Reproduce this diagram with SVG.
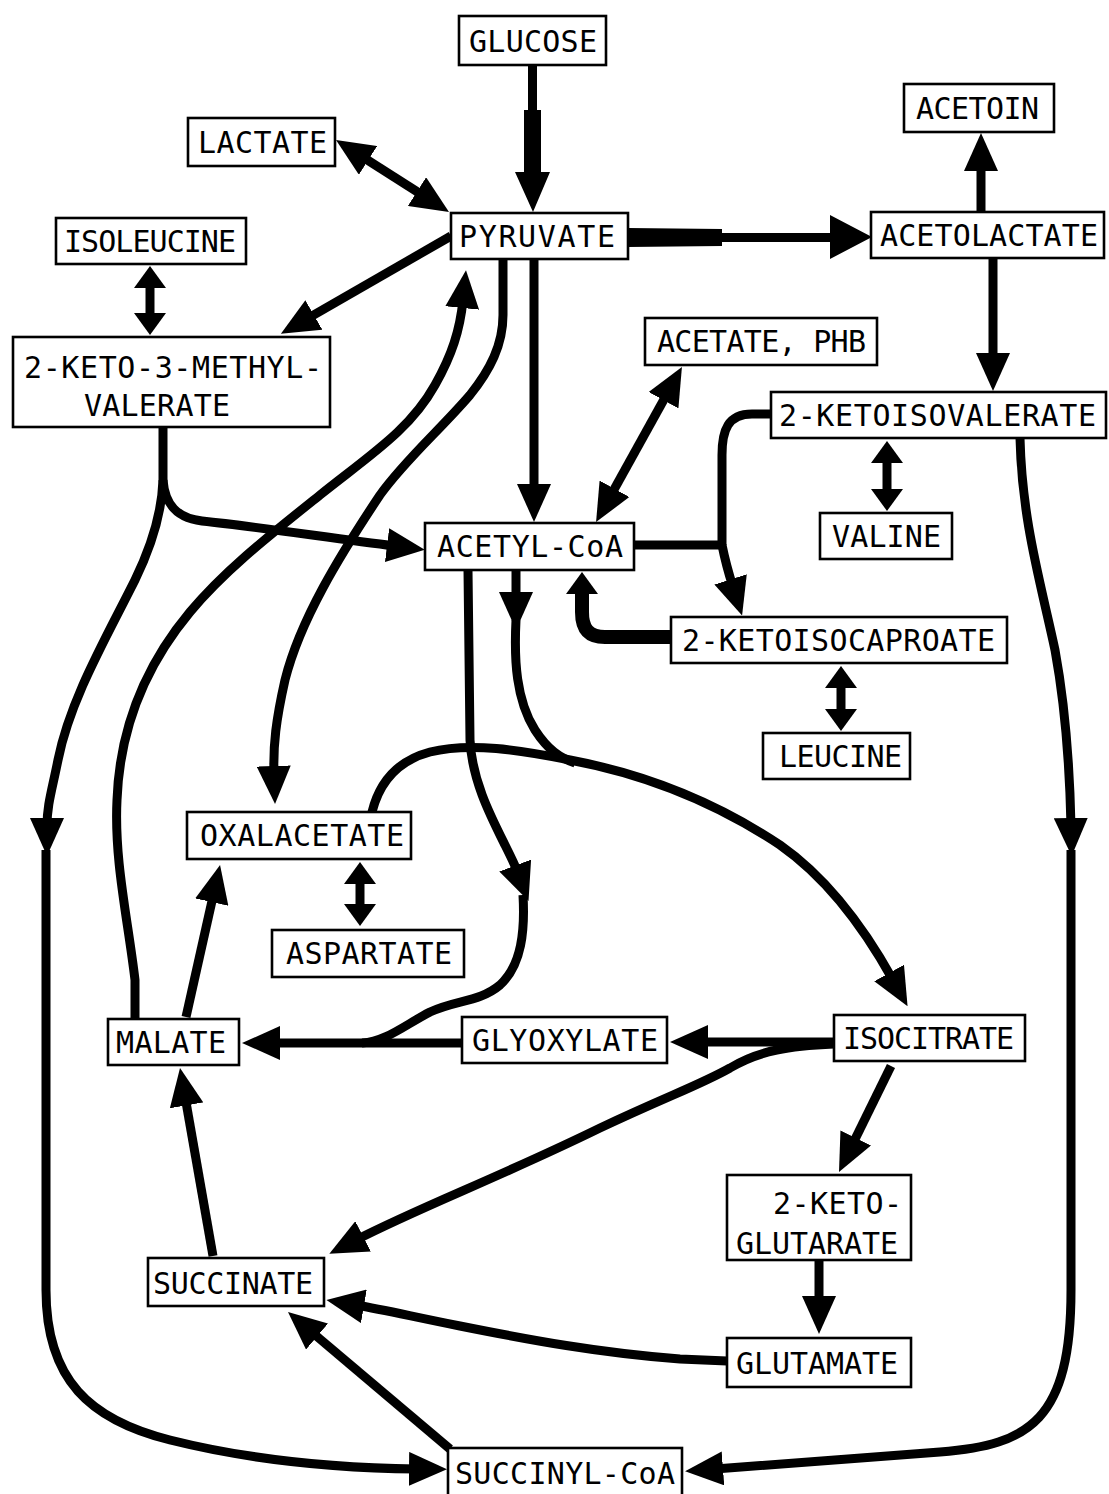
<svg xmlns="http://www.w3.org/2000/svg" width="1109" height="1494" viewBox="0 0 1109 1494">
<style>
.bx rect{fill:#fff;stroke:#000;stroke-width:2.6}
.bx text{font-family:"DejaVu Sans Mono","Liberation Mono",monospace;font-size:30px;fill:#000;text-anchor:start}
.c{fill:none;stroke:#000;stroke-width:9;stroke-linejoin:round}
.ca{fill:none;stroke:#000;stroke-width:9;stroke-linejoin:round;marker-end:url(#ah)}
.cd{fill:none;stroke:#000;stroke-width:9;marker-start:url(#sh);marker-end:url(#sh)}
.f{fill:#000;stroke:none}
</style>
<defs>
<marker id="ah" markerUnits="userSpaceOnUse" viewBox="0 0 38 34" refX="8" refY="17" markerWidth="38" markerHeight="34" orient="auto-start-reverse"><path d="M0,0 L38,17 L0,34 Z" fill="#000"/></marker>
<marker id="sh" markerUnits="userSpaceOnUse" viewBox="0 0 22 32" refX="6" refY="16" markerWidth="22" markerHeight="32" orient="auto-start-reverse"><path d="M0,0 L22,16 L0,32 Z" fill="#000"/></marker>
</defs>
<rect width="1109" height="1494" fill="#fff"/>
<g id="connectors">
<path class="f" d="M528,65 L537,65 L537,110 L541,110 L541,172 L550,172 L533,212 L515,172 L524,172 L524,110 L528,110 Z"/>
<path class="c" d="M361.3,156.1 L423.7,195.9" marker-start="url(#ah)" marker-end="url(#ah)"/>
<path class="f" d="M628,228 L722,229 L722,233 L830,233 L830,215 L872,237 L830,259 L830,242 L722,242 L722,246 L628,247 Z"/>
<path class="ca" d="M981,212 L981,163"/>
<path class="ca" d="M993,258 L993,361"/>
<path class="cd" d="M150,282 L150,319"/>
<path class="ca" d="M451,236 L306.9,318.9"/>
<path class="ca" d="M534,259 L534,492"/>
<path class="c" d="M610.6,495.8 L667.4,393.2" marker-start="url(#ah)" marker-end="url(#ah)"/>
<path class="cd" d="M887,457 L887,495"/>
<path class="ca" d="M1020,438 C1022,520 1040,580 1055,650 C1066,710 1070,780 1071,826"/>
<path class="ca" d="M1071,850 L1071,1290 C1071,1420 1030,1445 940,1452 L715,1469"/>
<path class="ca" d="M163,427 L163,480 C162,510 152,545 135,580 C105,640 70,700 58,760 C52,790 47,805 47,826"/>
<path class="ca" d="M46,850 L46,1290 C46,1380 90,1420 170,1440 C250,1460 330,1468 417,1469"/>
<path class="ca" d="M163,480 C165,505 177,518 202,521 C260,527 330,538 395,546"/>
<path class="c" d="M771,414 L752,414 C728,414 722,430 722,455 L722,545"/>
<path class="c" d="M634,545 L722,545"/>
<path class="ca" d="M722,545 Q726,565 733,587"/>
<path class="c" d="M671,637 L605,637 C588,637 582,628 582,612 L582,588" style="stroke-width:14" marker-end="url(#sh)"/>
<path class="cd" d="M841,682 L841,715"/>
<path class="ca" d="M503,259 L503,315 C503,345 490,370 470,395 C440,430 405,460 380,495 C340,555 300,620 285,680 C276,720 273,745 274,774"/>
<path class="ca" d="M135,1019 L135,980 C128,920 114,860 117,800 C120,720 150,660 190,612 C225,570 270,535 320,495 C370,455 410,430 435,385 C452,355 460,330 463,300"/>
<path class="ca" d="M186,1017 L213.5,894.3"/>
<path class="cd" d="M360,878 L360,910"/>
<path class="ca" d="M372,812 C380,780 400,760 430,752 C470,742 520,750 570,760 C650,775 720,805 780,845 C830,880 868,935 893,980"/>
<path class="ca" d="M516,570 L516,600"/>
<path class="c" d="M516,620 C514,660 516,700 535,730 C548,750 560,758 575,763"/>
<path class="ca" d="M468,570 L470,740 C472,780 490,815 505,845 C510,855 515,865 518,873"/>
<path class="c" d="M523,895 C525,930 522,965 500,985 C480,1002 455,1000 430,1012 C405,1025 385,1042 362,1043"/>
<path class="ca" d="M462,1043 L272,1043"/>
<path class="ca" d="M834,1042 L700,1042"/>
<path class="ca" d="M834,1044 C790,1046 760,1050 730,1068 C700,1085 670,1095 600,1128 C500,1177 420,1207 356,1240"/>
<path class="ca" d="M891,1066 L852.2,1145.1"/>
<path class="ca" d="M819,1260 L819,1304"/>
<path class="ca" d="M727,1361 L680,1359 C600,1353 530,1340 460,1326 C410,1316 385,1310 356,1305"/>
<path class="ca" d="M450,1449 L310.9,1331.4"/>
<path class="ca" d="M213,1256 L185.2,1097.5"/>
</g>
<g id="glucose" class="bx"><rect x="459" y="16" width="147" height="49"/><text x="469" y="52" textLength="128">GLUCOSE</text></g>
<g id="acetoin" class="bx"><rect x="904" y="84" width="150" height="48"/><text x="916" y="119" textLength="123">ACETOIN</text></g>
<g id="lactate" class="bx"><rect x="188" y="118" width="147" height="48"/><text x="198" y="153" textLength="129">LACTATE</text></g>
<g id="pyruvate" class="bx"><rect x="451" y="213" width="177" height="46"/><text x="459" y="247" textLength="156">PYRUVATE</text></g>
<g id="acetolactate" class="bx"><rect x="871" y="212" width="233" height="46"/><text x="880" y="246" textLength="218">ACETOLACTATE</text></g>
<g id="isoleucine" class="bx"><rect x="56" y="218" width="190" height="46"/><text x="64" y="252" textLength="172">ISOLEUCINE</text></g>
<g id="keto-methylvalerate" class="bx"><rect x="13" y="337" width="317" height="90"/><text x="24" y="378" textLength="298">2-KETO-3-METHYL-</text><text x="84" y="416" textLength="146">VALERATE</text></g>
<g id="acetate-phb" class="bx"><rect x="645" y="318" width="232" height="47"/><text x="657" y="352" textLength="209">ACETATE, PHB</text></g>
<g id="ketoisovalerate" class="bx"><rect x="771" y="392" width="335" height="46"/><text x="779" y="426" textLength="317">2-KETOISOVALERATE</text></g>
<g id="valine" class="bx"><rect x="820" y="513" width="132" height="46"/><text x="832" y="547" textLength="109">VALINE</text></g>
<g id="acetyl-coa" class="bx"><rect x="425" y="523" width="209" height="47"/><text x="437" y="557" textLength="186">ACETYL-CoA</text></g>
<g id="ketoisocaproate" class="bx"><rect x="671" y="617" width="336" height="46"/><text x="682" y="651" textLength="313">2-KETOISOCAPROATE</text></g>
<g id="leucine" class="bx"><rect x="763" y="733" width="147" height="46"/><text x="779" y="767" textLength="123">LEUCINE</text></g>
<g id="oxalacetate" class="bx"><rect x="187" y="812" width="224" height="47"/><text x="200" y="846" textLength="204">OXALACETATE</text></g>
<g id="aspartate" class="bx"><rect x="272" y="930" width="192" height="47"/><text x="286" y="964" textLength="166">ASPARTATE</text></g>
<g id="malate" class="bx"><rect x="108" y="1019" width="131" height="46"/><text x="116" y="1053" textLength="110">MALATE</text></g>
<g id="glyoxylate" class="bx"><rect x="462" y="1017" width="205" height="46"/><text x="472" y="1051" textLength="186">GLYOXYLATE</text></g>
<g id="isocitrate" class="bx"><rect x="834" y="1015" width="191" height="46"/><text x="843" y="1049" textLength="171">ISOCITRATE</text></g>
<g id="ketoglutarate" class="bx"><rect x="727" y="1175" width="184" height="85"/><text x="773" y="1214" textLength="129">2-KETO-</text><text x="736" y="1254" textLength="162">GLUTARATE</text></g>
<g id="succinate" class="bx"><rect x="148" y="1258" width="176" height="48"/><text x="153" y="1294" textLength="160">SUCCINATE</text></g>
<g id="glutamate" class="bx"><rect x="727" y="1338" width="184" height="49"/><text x="736" y="1374" textLength="162">GLUTAMATE</text></g>
<g id="succinyl-coa" class="bx"><rect x="448" y="1448" width="234" height="50"/><text x="455" y="1484" textLength="220">SUCCINYL-CoA</text></g>
</svg>
